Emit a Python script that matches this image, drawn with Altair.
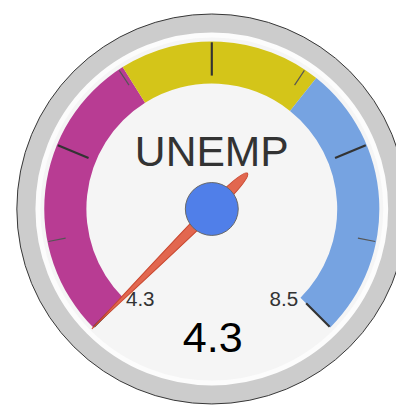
import altair as alt
import pandas as pd

gauge_title = ["UNEMP"]
gauge_min = 4.3
gauge_max = 8.5
gauge_value = [4.3]
band_starts = [4.3, 5.9, 7.0]
band_ends = [5.9, 7.0, 8.5]
band_colors = ["#b83c93", "#d4c519", "#76a3e1"]
major_ticks = [4.3, 5.35, 6.4, 7.45, 8.5]
minor_ticks = [4.825, 5.875, 6.925, 7.975]
end_labels = ["4.3", "8.5"]

# ---- layout (chart coordinates) ----
CX, CY = 208, 201
W, H = 396, 400
FONT = "Liberation Sans"

theta_scale = alt.Scale(domain=[gauge_min, gauge_max], range=[-2.35619, 2.35619])
angle_scale = alt.Scale(domain=[gauge_min, gauge_max], range=[225, 495])

one = pd.DataFrame({"k": [0]})
bands = pd.DataFrame({"start": band_starts, "end": band_ends, "color": band_colors})
majors = pd.DataFrame({"v": major_ticks})
minors = pd.DataFrame({"v": minor_ticks})
needle = pd.DataFrame({"v": gauge_value})
title_df = pd.DataFrame({"t": gauge_title})
value_df = pd.DataFrame({"t": [f"{v:.1f}" for v in gauge_value]})
lab_df = pd.DataFrame({"t": end_labels, "side": ["min", "max"]})

UNIT = 350 * 350  # custom path unit (1.0) = 175 px

outer = alt.Chart(one).mark_circle(
    size=398 * 398, fill="#cccccc", stroke="#333333", strokeWidth=1, opacity=1
).encode(x=alt.value(CX), y=alt.value(CY))

face = alt.Chart(one).mark_circle(
    size=355 * 355, fill="#f5f5f5", stroke="#fcfcfc", strokeWidth=5, opacity=1
).encode(x=alt.value(CX), y=alt.value(CY))

band_layer = alt.Chart(bands).mark_arc(radius=171, radius2=128).encode(
    x=alt.value(CX), y=alt.value(CY),
    theta=alt.Theta("start:Q", scale=theta_scale, stack=None),
    theta2="end:Q",
    color=alt.Color("color:N", scale=None),
)

major_layer = alt.Chart(majors).mark_point(
    shape="M0,-0.972L0,-0.778", size=UNIT, filled=False,
    stroke="#333333", strokeWidth=2.2, opacity=1,
).encode(x=alt.value(CX), y=alt.value(CY),
         angle=alt.Angle("v:Q", scale=angle_scale))

minor_layer = alt.Chart(minors).mark_point(
    shape="M0,-0.972L0,-0.869", size=UNIT, filled=False,
    stroke="#555555", strokeWidth=1.2, opacity=1,
).encode(x=alt.value(CX), y=alt.value(CY),
         angle=alt.Angle("v:Q", scale=angle_scale))

title_layer = alt.Chart(title_df).mark_text(
    font=FONT, fontSize=43.5, color="#333333", baseline="alphabetic", align="center"
).encode(x=alt.value(CX), y=alt.value(157), text="t:N")

min_label = alt.Chart(lab_df).transform_filter(alt.datum.side == "min").mark_text(
    font=FONT, fontSize=21, color="#333333", baseline="alphabetic", align="center"
).encode(x=alt.value(CX - 73), y=alt.value(300), text="t:N")

max_label = alt.Chart(lab_df).transform_filter(alt.datum.side == "max").mark_text(
    font=FONT, fontSize=21, color="#333333", baseline="alphabetic", align="center"
).encode(x=alt.value(CX + 73.5), y=alt.value(300), text="t:N")

value_layer = alt.Chart(value_df).mark_text(
    font=FONT, fontSize=44, color="#000000", baseline="alphabetic", align="center"
).encode(x=alt.value(CX + 1), y=alt.value(347), text="t:N")

needle_path = ("M0,-0.989 C0.01,-0.7 0.034,-0.15 0.032,0.08 "
               "C0.03,0.24 0.016,0.292 0,0.295 "
               "C-0.016,0.292 -0.03,0.24 -0.032,0.08 "
               "C-0.034,-0.15 -0.01,-0.7 0,-0.989 Z")
needle_layer = alt.Chart(needle).mark_point(
    shape=needle_path, size=UNIT, filled=True, fill="#e2674f",
    stroke="#c9472f", strokeWidth=1, opacity=1,
).encode(x=alt.value(CX), y=alt.value(CY),
         angle=alt.Angle("v:Q", scale=angle_scale))

hub = alt.Chart(one).mark_circle(
    size=54 * 54, fill="#507fe9", stroke="#666666", strokeWidth=1, opacity=1
).encode(x=alt.value(CX), y=alt.value(CY))

chart = alt.layer(
    outer, face, band_layer, major_layer, minor_layer,
    title_layer, min_label, max_label, value_layer, needle_layer, hub,
).properties(
    width=W, height=H, autosize=alt.AutoSizeParams(type="none"), padding=0,
    background="white",
).configure_view(stroke=None)

chart.save("out.html", embed_options={"renderer": "svg", "actions": False})
